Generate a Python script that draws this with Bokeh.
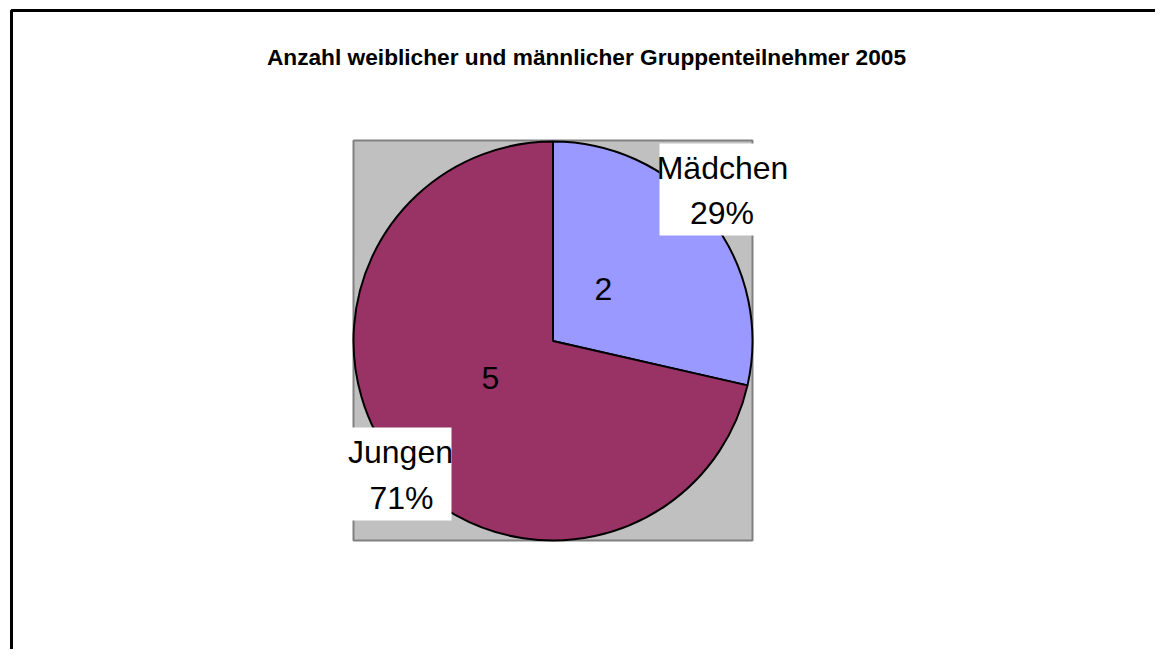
import numpy as np
from bokeh.plotting import figure
from bokeh.models import Range1d
from bokeh.core.properties import value
from bokeh.embed import file_html
from bokeh.resources import INLINE

# ---- data ----
title_text = "Anzahl weiblicher und männlicher Gruppenteilnehmer 2005"
categories = ["Mädchen", "Jungen"]
counts = [2, 5]
colors = ["#9999FF", "#993366"]

W, H = 1155, 649
p = figure(width=W, height=H, output_backend="svg", toolbar_location=None,
           x_range=Range1d(0, W), y_range=Range1d(0, H), min_border=0)
p.axis.visible = False
p.grid.visible = False
p.outline_line_color = None
p.background_fill_color = "white"
p.border_fill_color = "white"

def X(sx):
    return sx

def Y(sy):
    return H - sy

LABEL_FONT = value("Liberation Sans")
LABEL_SIZE = "32px"
DY = -12  # baseline correction for label texts

# outer frame (cropped on right/bottom like the reference)
p.quad(left=[X(11)], right=[X(3000)], top=[Y(10)], bottom=[Y(3000)],
       fill_color=None, line_color="black", line_width=3)

# plot area
p.quad(left=[X(353)], right=[X(752)], top=[Y(140)], bottom=[Y(540)],
       fill_color="#C0C0C0", line_color="#808080", line_width=2)

# pie
total = sum(counts)
fracs = np.array(counts) / total
ends = np.deg2rad(90 - np.cumsum(fracs) * 360)
starts = np.concatenate([[np.pi / 2], ends[:-1]])
cx, cy, r = X(552.5), Y(340.5), 199.5
p.wedge(x=[cx] * len(counts), y=[cy] * len(counts), radius=r,
        start_angle=list(starts), end_angle=list(ends),
        direction="clock", fill_color=colors, line_color="black", line_width=2)

# value labels inside slices
p.text(x=[X(603), X(490)], y=[Y(300 + DY), Y(389 + DY)], text=[str(c) for c in counts],
       text_font=LABEL_FONT, text_font_size=LABEL_SIZE, text_align="center",
       text_baseline="alphabetic", text_color="black")

# category/percent labels with white boxes
pcts = [f"{round(100 * c / total)}%" for c in counts]
p.quad(left=[X(659), X(349)], right=[X(786), X(451)], top=[Y(143), Y(427)],
       bottom=[Y(235), Y(520)], fill_color="white", line_color=None)
p.text(x=[X(722), X(400)], y=[Y(179 + DY), Y(463 + DY)], text=categories,
       text_font=LABEL_FONT, text_font_size=LABEL_SIZE, text_align="center",
       text_baseline="alphabetic", text_color="black")
p.text(x=[X(721.5), X(401)], y=[Y(224 + DY), Y(509 + DY)], text=pcts,
       text_font=LABEL_FONT, text_font_size=LABEL_SIZE, text_align="center",
       text_baseline="alphabetic", text_color="black")

# title
p.text(x=[X(586)], y=[Y(56.5)], text=[title_text],
       text_font=value("Liberation Sans"), text_font_size="22.7px",
       text_font_style="bold", text_align="center",
       text_baseline="alphabetic", text_color="black")

open("out.html", "w").write(file_html(p, INLINE))
